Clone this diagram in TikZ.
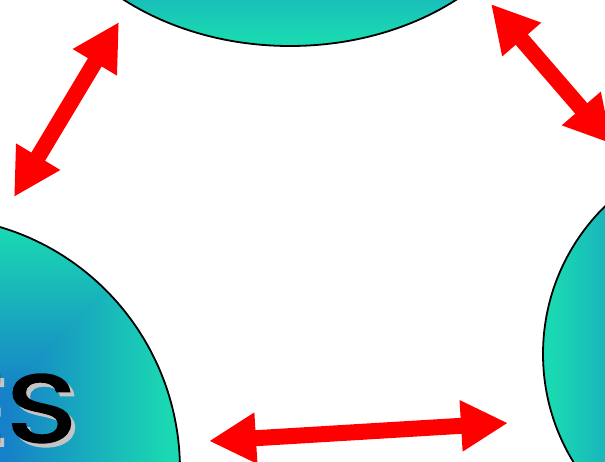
\documentclass[tikz,border=0pt]{standalone}
\usepackage{fontspec}
\usepackage{graphicx}
\newfontfamily\labelfont[FakeBold=2]{Poppins}
\usetikzlibrary{arrows.meta,shapes.geometric}

\definecolor{linkred}{RGB}{255,0,0}
\definecolor{shadowgray}{RGB}{196,196,196}

% blue in the middle, teal towards the rim (nested-rectangle gradient)
\pgfdeclarefunctionalshading{bubbleshade}{\pgfpoint{-50bp}{-50bp}}{\pgfpoint{50bp}{50bp}}{}{
  abs exch abs 2 copy lt {exch} if pop
  25 div 0.3 sub 0.65 div
  dup 0 lt {pop 0} if dup 1 gt {pop 1} if
  dup 0.016 mul 0.086 add exch
  dup 0.345 mul 0.502 add exch
  -0.086 mul 0.784 add
}

\begin{document}
\begin{tikzpicture}[
    x=1pt, y=-1pt,
    bubble/.style={ellipse, draw=black, line width=1.8pt, shade, shading=bubbleshade,
                   inner sep=0pt},
    link/.style={linkred, line width=16pt,
                 {Triangle[length=47pt,width=48pt]}-{Triangle[length=47pt,width=48pt]}},
    bigtext/.style={font=\labelfont\fontsize{96}{96}\selectfont, anchor=base east,
                    inner sep=0pt},
  ]
  \useasboundingbox (0,0) rectangle (605,461);
  \clip (0,0) rectangle (605,461);

  % ---------- the three bubbles (mostly outside the frame) ----------
  \node[bubble, minimum width=520pt, minimum height=400pt] (topbubble) at (290,-154) {};
  \node[bubble, minimum width=500pt, minimum height=506pt] (leftbubble) at (-70,470) {};
  \node[bubble, minimum width=414pt, minimum height=414pt] (rightbubble) at (750,354) {};

  % ---------- label in the left bubble ----------
  \node[bigtext, text=shadowgray] (leftshadow) at (81,446) {\scalebox{1.25}[1]{ES}};
  \node[bigtext, text=black] (leftlabel) at (77,442) {\scalebox{1.25}[1]{ES}};

  % ---------- arrow ends ----------
  \coordinate (top-l) at (119,22);
  \coordinate (left-t) at (14,197);
  \coordinate (top-r) at (491,4);
  \coordinate (right-t) at (612,144);
  \coordinate (left-r) at (209,441);
  \coordinate (right-l) at (508,423);

  % ---------- two-way links ----------
  \draw[link] (top-l) -- (left-t);
  \draw[link] (top-r) -- (right-t);
  \draw[link] (left-r) -- (right-l);

\end{tikzpicture}
\end{document}
